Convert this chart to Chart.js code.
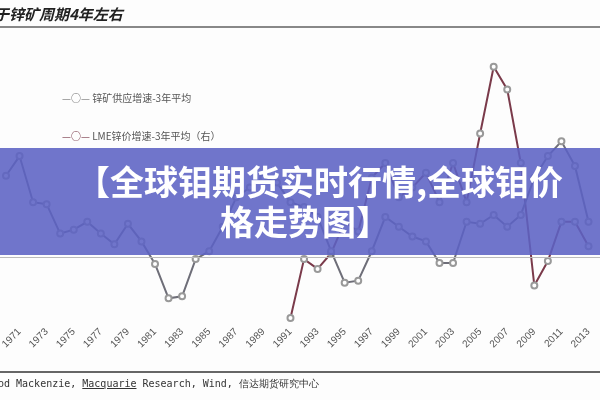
<!DOCTYPE html>
<html><head><meta charset="utf-8">
<script src="https://cdn.jsdelivr.net/npm/chart.js@4"></script>
<style>
body{margin:0;background:#fff;font-family:"Noto Sans CJK SC",sans-serif;}
#wrap{position:relative;width:600px;height:400px;overflow:hidden;background:#fdfdfd}
canvas{position:absolute;left:0;top:0}
.t{position:absolute;white-space:nowrap;line-height:1}
</style></head><body>
<div id="wrap">
<canvas id="c" width="600" height="400"></canvas>
<div class="t" style="left:-6px;top:6px;font-size:15px;font-weight:bold;font-style:italic;color:#222;">于锌矿周期4年左右</div>
<div style="position:absolute;left:0;top:26px;width:600px;height:2px;background:#888"></div>
<div class="t" style="left:62px;top:93px;font-size:10px;color:#555;"><span style="color:#777">—○—</span> 锌矿供应增速-3年平均</div>
<div class="t" style="left:62px;top:131px;font-size:10px;color:#555;"><span style="color:#7a3a4a">—○—</span> LME锌价增速-3年平均（右）</div>
<div style="position:absolute;left:0;top:148px;width:600px;height:107px;background:rgba(92,98,196,0.88)"></div>
<div style="position:absolute;left:0;top:257px;width:600px;height:1px;background:#bbb"></div>
<div class="t" style="left:76px;top:164px;font-size:34px;font-weight:bold;color:#fff;">【全球钼期货实时行情,全球钼价</div>
<div class="t" style="left:220px;top:204px;font-size:34px;font-weight:bold;color:#fff;">格走势图】</div>
<div style="position:absolute;left:0;top:371px;width:600px;height:2px;background:#666"></div>
<div class="t" style="left:-2px;top:379px;font-size:10px;color:#333;font-family:'DejaVu Sans Mono',monospace;">od Mackenzie, <u>Macquarie</u> Research, Wind, 信达期货研究中心</div>
</div>
<script>
const years=[1970,1971,1972,1973,1974,1975,1976,1977,1978,1979,1980,1981,1982,1983,1984,1985,1986,1987,1988,1989,1990,1991,1992,1993,1994,1995,1996,1997,1998,1999,2000,2001,2002,2003,2004,2005,2006,2007,2008,2009,2010,2011,2012,2013];
const supply=[6.35,7.35,5,4.9,3.4,3.6,4,3.4,2.85,3.9,3,1.85,0.1,0.2,2.1,2.5,3.75,5.25,5.75,6.25,6,5,4.75,4.25,2.5,0.9,1,2.5,4.25,3.75,3.25,3,1.9,1.9,4,3.9,4.35,3.75,4.35,6.25,7.35,8.1,6.85,4];
const lmeYears=[1991,1992,1993,1994,1995,1996,1997,1998,1999,2000,2001,2002,2003,2004,2005,2006,2007,2008,2009,2010,2011,2012,2013];
const lme=[-0.9,2.1,1.6,2.4,4,3.5,6.25,7,5.25,5.75,6.5,5,7,5,8.5,11.9,10.75,7,0.75,2,4,4,2.75];
const tickYears=[1971,1973,1975,1977,1979,1981,1983,1985,1987,1989,1991,1993,1995,1997,1999,2001,2003,2005,2007,2009,2011,2013];
new Chart(document.getElementById('c'),{type:'line',
data:{datasets:[
{data:years.map((y,i)=>({x:y,y:supply[i]})),borderColor:'#6e6e78',borderWidth:2,pointBackgroundColor:'#fff',pointBorderColor:'#999',pointRadius:3,yAxisID:'y',tension:0,clip:false},
{data:lmeYears.map((y,i)=>({x:y,y:lme[i]})),borderColor:'#7a3a4a',borderWidth:2,pointBackgroundColor:'#fff',pointBorderColor:'#999',pointRadius:3,yAxisID:'y1',tension:0,clip:false}]},
options:{responsive:false,animation:false,layout:{padding:{left:5,right:2,top:0,bottom:0}},
plugins:{legend:{display:false},tooltip:{enabled:false}},
scales:{
x:{type:'linear',min:1970,max:2013,grid:{display:false},border:{display:false},
 afterBuildTicks:s=>{s.ticks=tickYears.map(v=>({value:v}));},
 afterFit:s=>{s.height=85;},
 ticks:{minRotation:45,maxRotation:45,autoSkip:false,color:'#555',font:{size:10},callback:v=>String(v)}},
y:{display:false,min:-0.75,max:15},
y1:{display:false,position:'right',min:-0.75,max:15}}}});
</script></body></html>
